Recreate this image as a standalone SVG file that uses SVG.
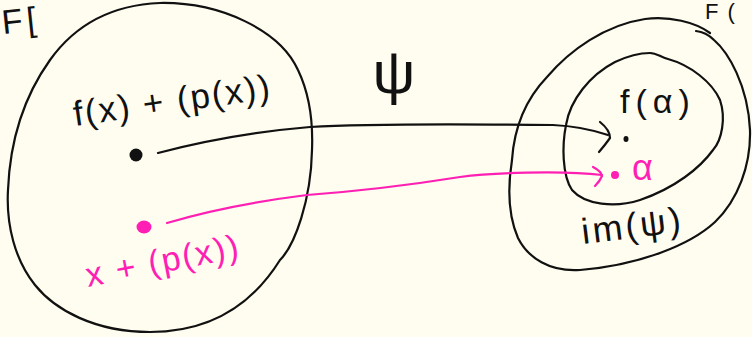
<svg xmlns="http://www.w3.org/2000/svg" width="752" height="337" viewBox="0 0 752 337">
<style>
.ink{fill:none;stroke:#111;stroke-width:2.2;stroke-linecap:round;stroke-linejoin:round}
.pink{fill:none;stroke:#ff1fb4;stroke-width:2.2;stroke-linecap:round;stroke-linejoin:round}
.t{font-family:"Liberation Sans",Arial,sans-serif;fill:#111}
.tp{font-family:"Liberation Sans",Arial,sans-serif;fill:#ff1fb4}
</style>
<rect width="752" height="337" fill="#fffdef"/>
<g id="domain">
<path class="ink" d="M160,3 C220,2 280,30 298,70 C310,95 313,125 312,150 C311,200 295,245 280,260 C255,300 215,332 150,332 C95,332 55,310 35,285 C15,260 6,225 8,190 C10,140 25,95 50,60 C75,25 110,5 160,3 Z"/>
<text class="t" x="3" y="34" font-size="34" letter-spacing="4" transform="rotate(-6 3 34)">F[</text>
</g>
<g id="codomain">
<path class="ink" d="M696,31 Q706,32 714,40 C728,52 748,85 750,130 C751,165 738,200 715,222 C690,245 640,265 580,270 C550,272 528,258 518,238 C508,215 508,185 512,160 C514,130 525,100 547,77 C570,50 605,25 645,19 C670,16 695,22 710,33"/>
<text class="t" x="705" y="19" font-size="22" letter-spacing="9">F(</text>
</g>
<g id="image">
<path class="ink" d="M650,53 C657,53 660,57 668,59 C690,65 712,82 720,100 C726,118 722,140 713,150 C700,168 675,188 640,200 C615,208 585,205 572,190 C562,175 562,145 566,125 C570,100 590,75 615,62 C630,55 642,53 650,53 Z"/>
<text class="t" x="583" y="244" font-size="36" letter-spacing="3" transform="rotate(-7 583 244)">im(ψ)</text>
</g>
<g id="node-fx">
<circle cx="136" cy="155" r="6.5" fill="#111"/>
<text class="t" x="75" y="126" font-size="35" letter-spacing="2" transform="rotate(-8 75 126)">f(x) + (p(x))</text>
</g>
<g id="node-x">
<ellipse cx="144" cy="227" rx="7.5" ry="6.5" fill="#ff1fb4"/>
<text class="tp" x="88" y="287" font-size="34" letter-spacing="2" transform="rotate(-11 88 287)">x + (p(x))</text>
</g>
<g id="node-falpha">
<ellipse cx="626" cy="139" rx="2.5" ry="3" fill="#111"/>
<text class="t" x="620" y="113" font-size="34" letter-spacing="6">f(α)</text>
</g>
<g id="node-alpha">
<circle cx="615" cy="175" r="4" fill="#ff1fb4"/>
<text class="tp" x="632" y="180" font-size="36">α</text>
</g>
<g id="connectors">
<path class="ink" d="M158,153 C200,142 250,132 310,127 C360,124 460,124 553,125 C575,126 590,129 608,135"/>
<path class="ink" d="M600,122 Q610,130 610,138 Q605,145 599,152"/>
<path class="pink" d="M167,223 C217,208 267,200 307,195 C360,191 410,185 460,177 C490,173 560,170 602,175"/>
<path class="pink" d="M593,167 Q601,171 602,176 Q600,181 595,186"/>
<text class="t" x="394" y="93" font-size="60" text-anchor="middle">ψ</text>
</g>
</svg>
